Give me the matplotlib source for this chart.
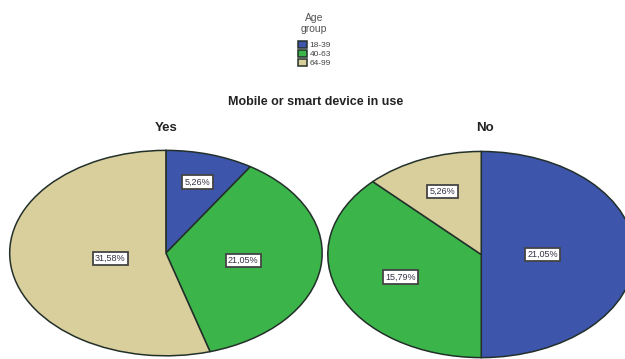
import matplotlib.pyplot as plt
import numpy as np

plt.rcParams['font.family'] = ['Liberation Sans', 'DejaVu Sans']

age_groups = ['18-39', '40-63', '64-99']
colors = ['#3d55ab', '#3bb449', '#d8cf9c']
yes_vals = [5.26, 21.05, 31.58]
no_vals = [21.05, 15.79, 5.26]
# how far from the centre each label sits (fraction of radius)
yes_lab_r = [0.72, 0.5, 0.36]
no_lab_r = [0.4, 0.57, 0.66]

fig = plt.figure(figsize=(6.25, 3.59), dpi=100)
ax1 = fig.add_axes([0.013, 0.006, 0.505, 0.578])
ax2 = fig.add_axes([0.522, 0.001, 0.496, 0.580])


def draw(ax, vals, lab_r):
    wedges, _ = ax.pie(vals, colors=colors, startangle=90, counterclock=False,
                       wedgeprops=dict(edgecolor='#23302a', linewidth=1.1))
    for w, v, r in zip(wedges, vals, lab_r):
        ang = np.deg2rad((w.theta1 + w.theta2) / 2)
        ax.text(r * np.cos(ang), r * np.sin(ang), f'{v:.2f}%'.replace('.', ','),
                ha='center', va='center', fontsize=6.5, color='#333344',
                bbox=dict(boxstyle='square,pad=0.25', fc='white', ec='#444444', lw=1.3))
    ax.set_aspect('auto')
    ax.set_xlim(-1.01, 1.01)
    ax.set_ylim(-1.01, 1.01)
    ax.axis('off')
    return wedges


w = draw(ax1, yes_vals, yes_lab_r)
draw(ax2, no_vals, no_lab_r)

fig.text(0.505, 0.715, 'Mobile or smart device in use', ha='center', va='center',
         fontsize=9, fontweight='bold', color='#222222')
fig.text(0.266, 0.643, 'Yes', ha='center', va='center', fontsize=9.5,
         fontweight='bold', color='#222222')
fig.text(0.776, 0.643, 'No', ha='center', va='center', fontsize=9.5,
         fontweight='bold', color='#222222')

# legend title drawn separately so the gap below it matches
fig.text(0.502, 0.935, 'Age\ngroup', ha='center', va='center', fontsize=7.5,
         color='#555555', linespacing=1.05)
leg = fig.legend(w, age_groups, loc='upper center',
                 bbox_to_anchor=(0.503, 0.898), frameon=False, fontsize=6,
                 handlelength=1.1, handleheight=1.0,
                 handletextpad=0.25, labelspacing=0.05, borderpad=0.0)
for t in leg.get_texts():
    t.set_color('#444444')

fig.savefig('out.png', dpi=100)
